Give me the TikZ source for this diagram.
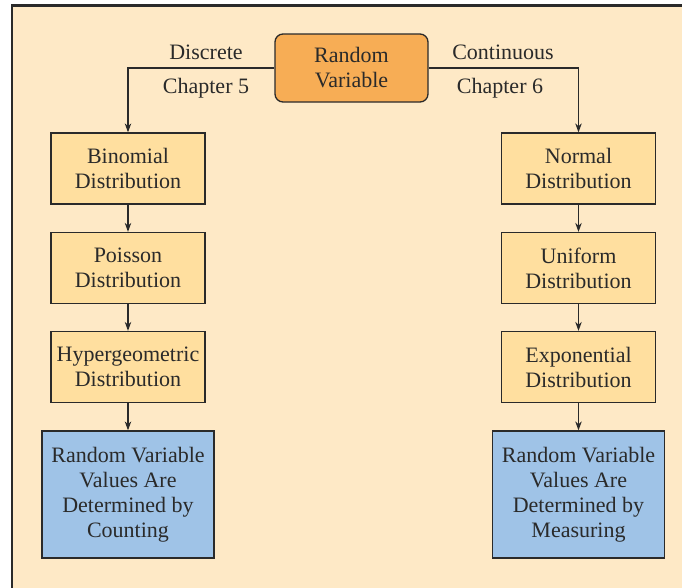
\documentclass[tikz,border=0pt]{standalone}
\usepackage{fontspec}
\setmainfont{Liberation Serif}
\usetikzlibrary{arrows.meta}
\definecolor{cream}{HTML}{FEE9C6}
\definecolor{lightbox}{HTML}{FFDF9F}
\definecolor{orangebox}{HTML}{F7AD55}
\definecolor{bluebox}{HTML}{9FC3E7}
\definecolor{ink}{HTML}{2A2A2A}
\begin{document}
\begin{tikzpicture}[x=1pt,y=-1pt,
  every node/.style={font=\fontsize{22}{25}\selectfont, text=ink},
  distbox/.style={draw=ink, line width=1.3pt, fill=lightbox, inner sep=0pt, align=center, minimum width=154pt, minimum height=71pt},
  resultbox/.style={draw=ink, line width=1.3pt, fill=bluebox, inner sep=0pt, align=center, minimum width=172pt, minimum height=127pt},
  topbox/.style={draw=ink, line width=1.3pt, fill=orangebox, inner sep=0pt, align=center, minimum width=153pt, minimum height=68pt, rounded corners=8pt},
  lbl/.style={inner sep=0pt},
  arr/.style={draw=ink, line width=1.1pt, -{Stealth[length=9pt,width=6.5pt]}}]
\useasboundingbox (0,0) rectangle (682,587);
\fill[white] (0,0) rectangle (682,587);
\draw[fill=cream, draw=ink, line width=2.5pt] (12,5.5) rectangle (700,610);

\node[topbox] (rv) at (351.5,68) {Random\\Variable};

\node[distbox] (bin) at (128,168.5) {Binomial\\Distribution};
\node[distbox] (poi) at (128,268) {Poisson\\Distribution};
\node[distbox] (hyp) at (128,367) {Hypergeometric\\Distribution};
\node[resultbox] (cnt) at (128,494.5) {Random Variable\\Values Are\\Determined by\\Counting};

\node[distbox] (nor) at (578.5,168.5) {Normal\\Distribution};
\node[distbox] (uni) at (578.5,268) {Uniform\\Distribution};
\node[distbox] (exd) at (578.5,367) {Exponential\\Distribution};
\node[resultbox] (mea) at (578.5,494.5) {Random Variable\\Values Are\\Determined by\\Measuring};

\node[lbl] (disc) at (206,52) {Discrete};
\node[lbl] (ch5) at (206,88) {Chapter 5};
\node[lbl] (cont) at (503,52) {Continuous};
\node[lbl] (ch6) at (500,88) {Chapter 6};

\draw[arr] (rv.west) -| (bin.north);
\draw[arr] (rv.east) -| (nor.north);
\draw[arr] (bin) -- (poi);
\draw[arr] (poi) -- (hyp);
\draw[arr] (hyp) -- (cnt);
\draw[arr] (nor) -- (uni);
\draw[arr] (uni) -- (exd);
\draw[arr] (exd) -- (mea);
\end{tikzpicture}
\end{document}
